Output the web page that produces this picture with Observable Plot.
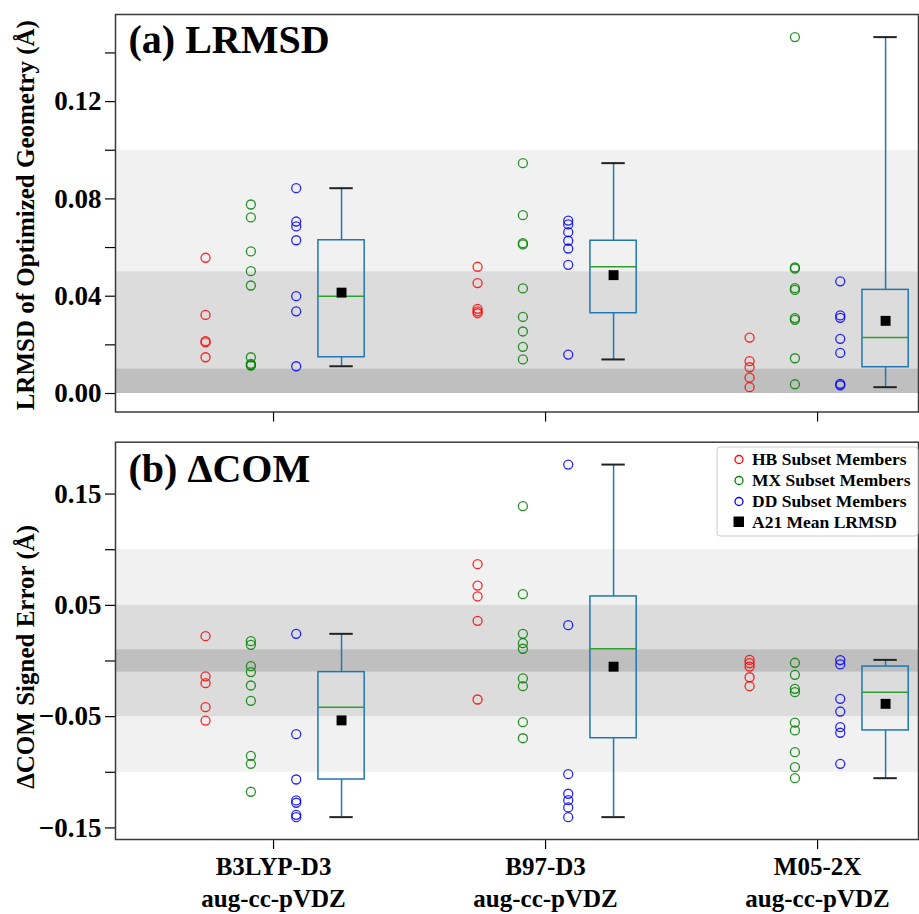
<!DOCTYPE html>
<html><head><meta charset="utf-8">
<script src="https://cdn.jsdelivr.net/npm/d3@7"></script>
<script src="https://cdn.jsdelivr.net/npm/@observablehq/plot@0.6"></script>
<style>
body{margin:0;background:#fff;}
#wrap{position:relative;width:919px;height:914px;font-family:"Liberation Serif","Times New Roman",serif;}
#wrap > svg{display:block}
#legend{position:absolute;left:716px;top:446px;}
</style></head><body><div id="wrap"></div>
<script>
const methods = ["B3LYP-D3\naug-cc-pVDZ", "B97-D3\naug-cc-pVDZ", "M05-2X\naug-cc-pVDZ"];
const subsets = ["HB", "MX", "DD"];
const subsetLabels = ["HB Subset Members", "MX Subset Members", "DD Subset Members"];
const meanLabel = "A21 Mean LRMSD";
const panelTitles = ["(a) LRMSD", "(b) ΔCOM"];
const yLabels = ["LRMSD of Optimized Geometry (Å)", "ΔCOM Signed Error (Å)"];

// (a) LRMSD values per method
const lrmsdHB = [[0.0558,0.0323,0.0215,0.0210,0.0149],
                 [0.0521,0.0454,0.0348,0.0338,0.0330],
                 [0.0230,0.0133,0.0108,0.0065,0.0026]];
const lrmsdMX = [[0.0777,0.0724,0.0584,0.0503,0.0444,0.0149,0.0122,0.0117,0.0115],
                 [0.0947,0.0733,0.0618,0.0613,0.0432,0.0315,0.0255,0.0192,0.0140],
                 [0.1465,0.0518,0.0513,0.0433,0.0426,0.0310,0.0303,0.0145,0.0038]];
const lrmsdDD = [[0.0844,0.0707,0.0687,0.0630,0.0400,0.0338,0.0112],
                 [0.0711,0.0695,0.0663,0.0628,0.0596,0.0529,0.0160],
                 [0.0461,0.0321,0.0311,0.0225,0.0167,0.0040,0.0034]];
// (b) ΔCOM signed error per method
const comHB = [[0.0223,-0.0139,-0.0199,-0.0415,-0.0535],
               [0.0870,0.0678,0.0580,0.0361,-0.0346],
               [0.0010,-0.0020,-0.0050,-0.0146,-0.0226]];
const comMX = [[0.0178,0.0145,-0.0047,-0.0100,-0.0220,-0.0358,-0.0852,-0.0924,-0.1175],
               [0.1391,0.0600,0.0244,0.0160,0.0110,-0.0157,-0.0226,-0.0550,-0.0694],
               [-0.0016,-0.0124,-0.0250,-0.0280,-0.0553,-0.0624,-0.0819,-0.0954,-0.1053]];
const comDD = [[0.0244,-0.0658,-0.1065,-0.1253,-0.1274,-0.1382,-0.1403],
               [0.1765,0.0322,-0.1017,-0.1193,-0.1251,-0.1316,-0.1403],
               [0.0008,-0.0031,-0.0340,-0.0454,-0.0595,-0.0645,-0.0924]];

const lrmsdTicks = [0.00, 0.04, 0.08, 0.12];
const lrmsdMinorTicks = [0.02, 0.06, 0.10, 0.14];
const comTicks = [-0.15, -0.05, 0.05, 0.15];
const comMinorTicks = [-0.10, 0.00, 0.10];
const lrmsdBands = [[0, 0.10], [0, 0.05], [0, 0.01]];
const comBands = [[-0.10, 0.10], [-0.05, 0.05], [-0.01, 0.01]];

// ---- layout / style ----
const FONT = "'Liberation Serif','Times New Roman',serif";
const subsetColors = ["#ff0000", "#008000", "#0000ff"];
const bandFills = ["#f1f1f1", "#dcdcdc", "#bfbfbf"];
const xDomain = [0.419, 3.371];
const slotOffset = [-0.25, -1/12, 1/12];
const boxOffset = 0.25, boxHalf = 0.085, capHalf = 0.043;
const BOXC = "#1f77b4", MEDC = "#2ca02c";

function buildPoints(sets) {
  const pts = [];
  methods.forEach((m, i) => subsets.forEach((s, k) =>
    sets[k][i].forEach(v => pts.push({group: i + 1, slot: k, subset: s, value: v}))));
  return pts;
}
function buildStats(sets) {
  return methods.map((m, i) => {
    const all = sets.flatMap(s => s[i]).sort(d3.ascending);
    return {group: i + 1, min: d3.min(all), q1: d3.quantile(all, 0.25), median: d3.quantile(all, 0.5),
            q3: d3.quantile(all, 0.75), max: d3.max(all), mean: d3.mean(all)};
  });
}

function panel({sets, bands, ticks, minor, yDomain, title, ylabel, height, marginTop, marginBottom, xLabels, titleDy, labelDy}) {
  const pts = buildPoints(sets);
  const stats = buildStats(sets);
  const bx = d => d.group + boxOffset;
  const marks = [];
  bands.forEach((b, i) => marks.push(Plot.rect([b], {x1: xDomain[0], x2: xDomain[1], y1: d => d[0], y2: d => d[1], fill: bandFills[i]})));
  marks.push(
    Plot.ruleX(stats, {x: bx, y1: "q3", y2: "max", stroke: BOXC, strokeWidth: 1.5}),
    Plot.ruleX(stats, {x: bx, y1: "min", y2: "q1", stroke: BOXC, strokeWidth: 1.5}),
    Plot.rect(stats, {x1: d => bx(d) - boxHalf, x2: d => bx(d) + boxHalf, y1: "q1", y2: "q3", fill: "none", stroke: BOXC, strokeWidth: 1.5}),
    Plot.ruleY(stats, {y: "median", x1: d => bx(d) - boxHalf, x2: d => bx(d) + boxHalf, stroke: MEDC, strokeWidth: 1.5}),
    Plot.ruleY(stats, {y: "max", x1: d => bx(d) - capHalf, x2: d => bx(d) + capHalf, stroke: "#222", strokeWidth: 2}),
    Plot.ruleY(stats, {y: "min", x1: d => bx(d) - capHalf, x2: d => bx(d) + capHalf, stroke: "#222", strokeWidth: 2}),
    Plot.dot(pts, {x: d => d.group + slotOffset[d.slot], y: "value", stroke: "subset", fill: "none", r: 4.5, strokeWidth: 1.3, strokeOpacity: 0.85}),
    Plot.dot(stats, {x: bx, y: "mean", symbol: "square", fill: "black", r: 5.6}),
    Plot.axisY(ticks, {tickSize: 10, tickPadding: 4, tickFormat: d3.format(".2f"), fontSize: 27, fontWeight: "bold", label: null, strokeWidth: 1.2}),
    Plot.axisY(minor, {tickSize: 10, tickFormat: () => "", label: null, strokeWidth: 1.2}),
    Plot.axisX([1, 2, 3], {tickSize: 10, tickFormat: () => "", label: null, strokeWidth: 1.2}),
    Plot.text([title], {text: d => d, frameAnchor: "top-left", textAnchor: "start", lineAnchor: "top", dx: 13, dy: titleDy, fontSize: 40, fontWeight: "bold"}),
    Plot.text([ylabel], {text: d => d, frameAnchor: "left", textAnchor: "middle", rotate: -90, dx: -90, dy: labelDy, fontSize: 25, fontWeight: "bold"}),
    Plot.frame({stroke: "#3a3a3a", strokeWidth: 1.5})
  );
  if (xLabels) marks.push(Plot.text(methods, {text: d => d, x: (d, i) => i + 1, frameAnchor: "bottom", lineAnchor: "top", dy: 12, fontSize: 25, lineHeight: 1.3, fontWeight: "bold"}));
  return Plot.plot({
    width: 919, height, marginLeft: 115, marginRight: 1, marginTop, marginBottom,
    x: {domain: xDomain},
    y: {domain: yDomain},
    color: {domain: subsets, range: subsetColors},
    style: {fontFamily: FONT, fontWeight: "bold", background: "white", color: "#000", overflow: "visible"},
    marks
  });
}

const wrap = document.getElementById("wrap");
wrap.appendChild(panel({
  sets: [lrmsdHB, lrmsdMX, lrmsdDD], bands: lrmsdBands, ticks: lrmsdTicks, minor: lrmsdMinorTicks,
  yDomain: [-0.0076, 0.1558], title: panelTitles[0], ylabel: yLabels[0],
  height: 426, marginTop: 14, marginBottom: 14.5, xLabels: false, titleDy: 10.5, labelDy: 2
}));
wrap.appendChild(panel({
  sets: [comHB, comMX, comDD], bands: comBands, ticks: comTicks, minor: comMinorTicks,
  yDomain: [-0.1604, 0.1966], title: panelTitles[1], ylabel: yLabels[1],
  height: 488, marginTop: 15.7, marginBottom: 75, xLabels: true, titleDy: 11.5, labelDy: 16
}));

// legend
const lg = d3.create("svg").attr("id", "legend").attr("width", 203).attr("height", 92)
  .style("font-family", FONT).style("font-weight", "bold");
lg.append("rect").attr("x", 1).attr("y", 1).attr("width", 201).attr("height", 89).attr("rx", 3)
  .attr("fill", "white").attr("fill-opacity", 0.85).attr("stroke", "#cccccc");
const rowsY = [19, 40, 61, 81.5];
subsetLabels.forEach((t, i) => {
  lg.append("circle").attr("cx", 23).attr("cy", rowsY[i] - 5.5).attr("r", 4).attr("fill", "none")
    .attr("stroke", subsetColors[i]).attr("stroke-width", 1.3);
  lg.append("text").attr("x", 36).attr("y", rowsY[i]).attr("font-size", 17.5).text(t);
});
lg.append("rect").attr("x", 17.5).attr("y", rowsY[3] - 11).attr("width", 10.5).attr("height", 10.5).attr("fill", "black");
lg.append("text").attr("x", 36).attr("y", rowsY[3]).attr("font-size", 17.5).text(meanLabel);
wrap.appendChild(lg.node());
</script></body></html>
